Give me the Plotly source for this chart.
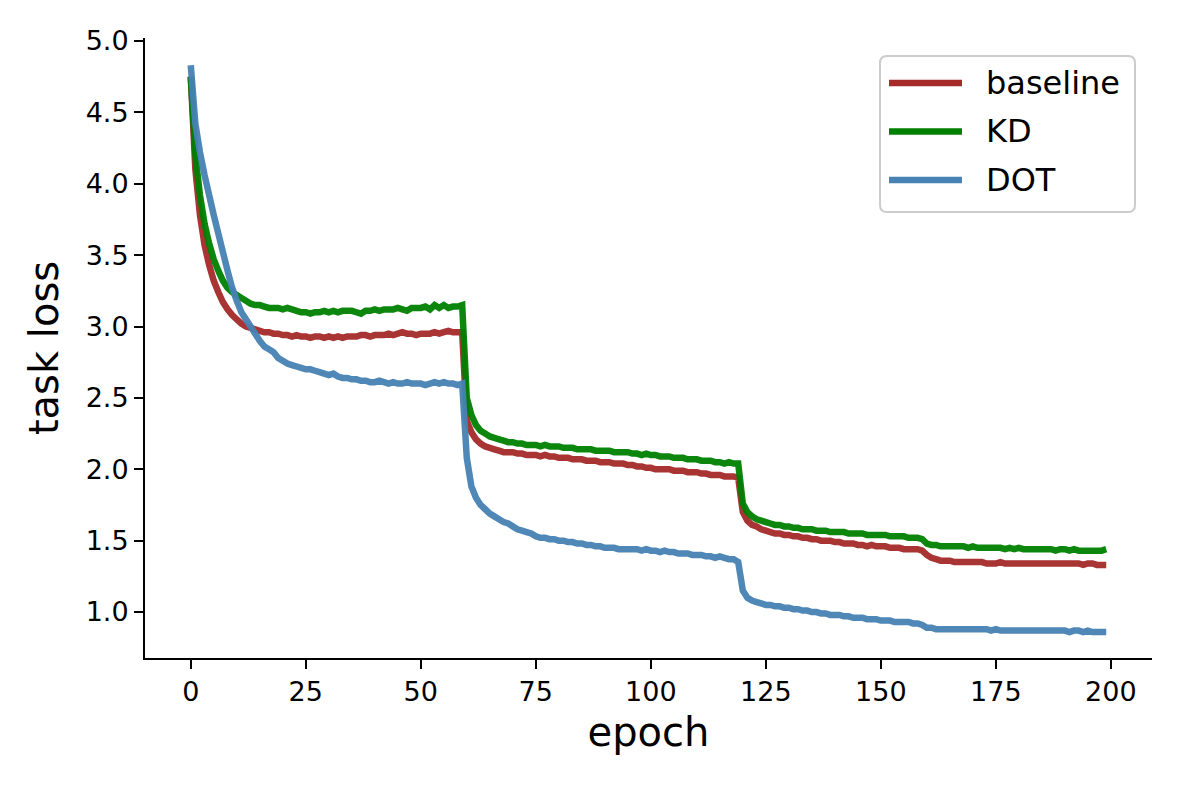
# -*- coding: utf-8 -*-
"""
Task loss per epoch for baseline, KD and DOT training.
"""
import plotly.graph_objects as go


# ---------------------------------------------------------------- data
epochs = list(range(200))

baseline = [
    4.75, 4.10, 3.78, 3.57, 3.43, 3.32, 3.24, 3.17, 3.12, 3.08,
    3.05, 3.02, 3.00, 2.99, 2.98, 2.97, 2.96, 2.96, 2.95, 2.95,
    2.94, 2.94, 2.93, 2.94, 2.93, 2.93, 2.92, 2.93, 2.93, 2.92,
    2.93, 2.92, 2.93, 2.92, 2.93, 2.93, 2.93, 2.94, 2.94, 2.93,
    2.94, 2.94, 2.94, 2.95, 2.94, 2.95, 2.96, 2.95, 2.95, 2.94,
    2.95, 2.95, 2.95, 2.96, 2.95, 2.96, 2.97, 2.96, 2.96, 2.96,
    2.34, 2.26, 2.21, 2.18, 2.16, 2.15, 2.14, 2.13, 2.12, 2.12,
    2.12, 2.11, 2.11, 2.10, 2.10, 2.10, 2.09, 2.10, 2.09, 2.09,
    2.08, 2.08, 2.08, 2.07, 2.07, 2.07, 2.06, 2.06, 2.06, 2.05,
    2.05, 2.05, 2.04, 2.04, 2.04, 2.03, 2.03, 2.02, 2.02, 2.01,
    2.01, 2.00, 2.00, 2.00, 2.00, 1.99, 1.99, 1.99, 1.98, 1.98,
    1.98, 1.97, 1.97, 1.96, 1.96, 1.96, 1.95, 1.95, 1.95, 1.94,
    1.70, 1.64, 1.61, 1.60, 1.58, 1.57, 1.56, 1.55, 1.55, 1.54,
    1.54, 1.53, 1.53, 1.52, 1.52, 1.51, 1.51, 1.50, 1.50, 1.50,
    1.49, 1.49, 1.48, 1.48, 1.48, 1.47, 1.47, 1.46, 1.47, 1.46,
    1.46, 1.46, 1.45, 1.45, 1.45, 1.44, 1.44, 1.44, 1.44, 1.43,
    1.40, 1.38, 1.37, 1.36, 1.36, 1.36, 1.35, 1.35, 1.35, 1.35,
    1.35, 1.35, 1.35, 1.34, 1.34, 1.34, 1.35, 1.34, 1.34, 1.34,
    1.34, 1.34, 1.34, 1.34, 1.34, 1.34, 1.34, 1.34, 1.34, 1.34,
    1.34, 1.34, 1.34, 1.34, 1.33, 1.34, 1.34, 1.33, 1.33, 1.33,
]

kd = [
    4.75, 4.20, 3.92, 3.72, 3.58, 3.47, 3.39, 3.32, 3.27, 3.24,
    3.22, 3.20, 3.18, 3.16, 3.15, 3.15, 3.14, 3.13, 3.13, 3.13,
    3.12, 3.13, 3.12, 3.11, 3.10, 3.10, 3.09, 3.10, 3.10, 3.11,
    3.10, 3.11, 3.10, 3.11, 3.11, 3.11, 3.10, 3.09, 3.11, 3.11,
    3.12, 3.11, 3.12, 3.12, 3.12, 3.13, 3.12, 3.11, 3.13, 3.13,
    3.13, 3.14, 3.12, 3.15, 3.13, 3.15, 3.13, 3.14, 3.14, 3.15,
    2.50, 2.38, 2.31, 2.27, 2.25, 2.23, 2.22, 2.21, 2.20, 2.19,
    2.19, 2.18, 2.18, 2.17, 2.17, 2.17, 2.16, 2.17, 2.16, 2.16,
    2.16, 2.15, 2.15, 2.15, 2.14, 2.14, 2.14, 2.14, 2.13, 2.13,
    2.13, 2.13, 2.12, 2.12, 2.12, 2.12, 2.11, 2.11, 2.10, 2.11,
    2.10, 2.10, 2.09, 2.09, 2.09, 2.08, 2.08, 2.08, 2.07, 2.07,
    2.07, 2.06, 2.06, 2.06, 2.05, 2.05, 2.04, 2.05, 2.04, 2.04,
    1.76, 1.70, 1.67, 1.65, 1.64, 1.63, 1.62, 1.61, 1.61, 1.60,
    1.60, 1.59, 1.59, 1.58, 1.58, 1.58, 1.57, 1.57, 1.57, 1.56,
    1.56, 1.56, 1.56, 1.55, 1.55, 1.55, 1.55, 1.54, 1.54, 1.54,
    1.54, 1.54, 1.53, 1.53, 1.53, 1.53, 1.52, 1.52, 1.52, 1.51,
    1.48, 1.47, 1.47, 1.46, 1.46, 1.46, 1.46, 1.46, 1.46, 1.45,
    1.46, 1.45, 1.45, 1.45, 1.45, 1.45, 1.45, 1.44, 1.45, 1.44,
    1.45, 1.44, 1.44, 1.44, 1.44, 1.44, 1.44, 1.44, 1.43, 1.44,
    1.44, 1.43, 1.44, 1.43, 1.43, 1.43, 1.43, 1.43, 1.43, 1.44,
]

dot = [
    4.83, 4.42, 4.22, 4.06, 3.92, 3.78, 3.65, 3.52, 3.39, 3.27,
    3.18, 3.10, 3.05, 3.00, 2.95, 2.90, 2.86, 2.84, 2.82, 2.78,
    2.76, 2.74, 2.73, 2.72, 2.71, 2.70, 2.70, 2.69, 2.68, 2.67,
    2.66, 2.67, 2.65, 2.64, 2.64, 2.63, 2.63, 2.62, 2.62, 2.61,
    2.61, 2.62, 2.61, 2.60, 2.61, 2.60, 2.60, 2.61, 2.60, 2.60,
    2.60, 2.59, 2.60, 2.61, 2.60, 2.61, 2.60, 2.60, 2.59, 2.60,
    2.08, 1.88, 1.80, 1.75, 1.72, 1.69, 1.67, 1.65, 1.63, 1.62,
    1.60, 1.58, 1.57, 1.56, 1.55, 1.53, 1.52, 1.52, 1.51, 1.51,
    1.50, 1.50, 1.49, 1.49, 1.48, 1.48, 1.47, 1.47, 1.46, 1.46,
    1.45, 1.45, 1.45, 1.44, 1.44, 1.44, 1.44, 1.44, 1.43, 1.44,
    1.43, 1.43, 1.42, 1.43, 1.42, 1.42, 1.41, 1.41, 1.41, 1.40,
    1.40, 1.40, 1.39, 1.39, 1.38, 1.39, 1.38, 1.37, 1.37, 1.35,
    1.15, 1.10, 1.08, 1.07, 1.06, 1.05, 1.05, 1.04, 1.04, 1.03,
    1.03, 1.02, 1.02, 1.01, 1.01, 1.00, 1.00, 0.99, 0.99, 0.98,
    0.98, 0.98, 0.97, 0.97, 0.96, 0.96, 0.96, 0.95, 0.95, 0.95,
    0.94, 0.94, 0.94, 0.93, 0.93, 0.93, 0.93, 0.92, 0.92, 0.91,
    0.89, 0.89, 0.88, 0.88, 0.88, 0.88, 0.88, 0.88, 0.88, 0.88,
    0.88, 0.88, 0.88, 0.88, 0.87, 0.88, 0.87, 0.87, 0.87, 0.87,
    0.87, 0.87, 0.87, 0.87, 0.87, 0.87, 0.87, 0.87, 0.87, 0.87,
    0.87, 0.86, 0.87, 0.87, 0.86, 0.87, 0.86, 0.86, 0.86, 0.86,
]

series_names = ["baseline", "KD", "DOT"]
series_values = [baseline, kd, dot]
series_colors = ["#a52a2a", "#008000", "#4682b4"]

x_ticks = [0, 25, 50, 75, 100, 125, 150, 175, 200]
y_ticks = [1.0, 1.5, 2.0, 2.5, 3.0, 3.5, 4.0, 4.5, 5.0]

# ---------------------------------------------------------------- layout
WIDTH, HEIGHT = 1181, 787
LEFT, RIGHT, TOP, BOTTOM = 145, 1152, 38, 658
FONT = "DejaVu Sans"
LINE_WIDTH = 6.5


def px_to_paper(px, py):
    """Convert a pixel position of the page to paper coordinates."""
    return ((px - LEFT) / (RIGHT - LEFT),
            (BOTTOM - py) / (BOTTOM - TOP))


fig = go.Figure()
for name, values, color in zip(series_names, series_values, series_colors):
    fig.add_scatter(x=epochs,
                    y=values,
                    mode="lines",
                    name=name,
                    line={"color": color, "width": LINE_WIDTH,
                          "simplify": False},
                    opacity=0.95)

fig.update_layout(width=WIDTH,
                  height=HEIGHT,
                  margin={"l": LEFT, "r": WIDTH - RIGHT,
                          "t": TOP, "b": HEIGHT - BOTTOM,
                          "autoexpand": False},
                  plot_bgcolor="white",
                  paper_bgcolor="white",
                  showlegend=False,
                  font={"family": FONT, "color": "black"})

fig.update_xaxes(range=[-9.95, 208.95],
                 automargin=False,
                 tickvals=x_ticks,
                 ticks="outside",
                 ticklen=9,
                 tickwidth=2,
                 tickcolor="black",
                 tickfont={"size": 27},
                 showline=True,
                 linecolor="black",
                 linewidth=2,
                 showgrid=False,
                 zeroline=False,
                 title={"text": "epoch", "font": {"size": 40},
                        "standoff": 12})

fig.update_yaxes(range=[0.678, 5.021],
                 automargin=False,
                 tickvals=y_ticks,
                 tickformat=".1f",
                 ticks="outside",
                 ticklen=9,
                 tickwidth=2,
                 tickcolor="black",
                 tickfont={"size": 27},
                 showline=True,
                 linecolor="black",
                 linewidth=2,
                 showgrid=False,
                 zeroline=False,
                 title={"text": "task loss", "font": {"size": 40},
                        "standoff": 15})

# legend drawn by hand so the sample lines are as long as in the reference
bx0, by0 = px_to_paper(880, 212)
bx1, by1 = px_to_paper(1135, 56)
r = 7
rx, ry = r / (RIGHT - LEFT), r / (BOTTOM - TOP)
box_path = (f"M {bx0 + rx},{by0} L {bx1 - rx},{by0} "
            f"Q {bx1},{by0} {bx1},{by0 + ry} L {bx1},{by1 - ry} "
            f"Q {bx1},{by1} {bx1 - rx},{by1} L {bx0 + rx},{by1} "
            f"Q {bx0},{by1} {bx0},{by1 - ry} L {bx0},{by0 + ry} "
            f"Q {bx0},{by0} {bx0 + rx},{by0} Z")
fig.add_shape(type="path", path=box_path, xref="paper", yref="paper",
              line={"color": "#cccccc", "width": 2},
              fillcolor="rgba(255,255,255,0.8)", layer="above")

for i, (name, color) in enumerate(zip(series_names, series_colors)):
    row_y = 83 + i * 48.5
    lx0, ly = px_to_paper(889, row_y)
    lx1, _ = px_to_paper(962, row_y)
    fig.add_shape(type="line", x0=lx0, x1=lx1, y0=ly, y1=ly,
                  xref="paper", yref="paper", layer="above",
                  line={"color": color, "width": LINE_WIDTH})
    tx, _ = px_to_paper(984, row_y)
    fig.add_annotation(x=tx, y=ly, xref="paper", yref="paper",
                       text=name, showarrow=False,
                       xanchor="left", yanchor="middle",
                       font={"size": 32, "family": FONT, "color": "black"})

# the page body has a default 8px margin; drop it so the figure sits at 0,0
fig.write_html("out.html",
               config={"displayModeBar": False},
               post_script="document.body.style.margin = '0px';")
